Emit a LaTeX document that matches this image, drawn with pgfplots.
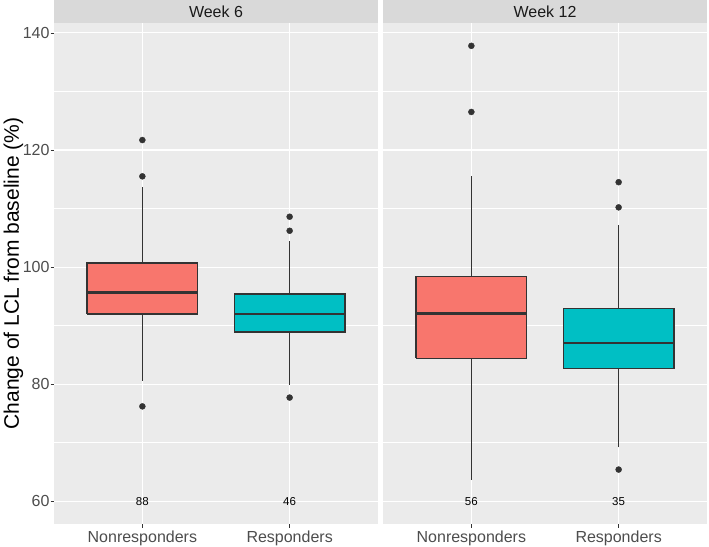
\documentclass[border=0pt]{standalone}
\usepackage{pgfplots}
\pgfplotsset{compat=1.18}
\usepackage{fontspec}
\setmainfont{Liberation Sans}
\definecolor{bgc}{HTML}{EBEBEB}
\definecolor{stripc}{HTML}{D9D9D9}
\definecolor{nonc}{HTML}{F8766D}
\definecolor{resc}{HTML}{00BFC4}
\definecolor{g20}{HTML}{333333}
\definecolor{g30}{HTML}{4D4D4D}
\definecolor{g10}{HTML}{1A1A1A}
\pgfplotsset{
  facet/.style={
    scale only axis, width=324pt, height=501pt,
    xmin=0.4, xmax=2.6, ymin=56.1, ymax=141.7,
    axis background/.style={fill=bgc},
    axis line style={draw=none},
    xtick={1,2}, xticklabels={Nonresponders,Responders},
    ytick={60,80,100,120,140},
    minor ytick={70,90,110,130},
    xmajorgrids, ymajorgrids, yminorgrids,
    major grid style={white, line width=1.1pt},
    minor grid style={white, line width=0.55pt},
    tick align=outside, xtick pos=bottom, ytick pos=left,
    major tick length=3.5pt, minor tick length=0pt,
    tick style={g20, line width=0.8pt},
    /pgf/number format/assume math mode=true,
    tick label style={font=\fontsize{16}{19}\selectfont, text=g30},
    yticklabel style={xshift=2.5pt},
    every axis title shift=0pt,
    title style={fill=stripc, text=g10, font=\fontsize{16}{19}\selectfont,
      minimum width=324pt, minimum height=23pt, inner sep=0pt,
      at={(0.5,1)}, anchor=south, yshift=0pt},
    clip=false,
  },
  box/.style={draw=g20, line width=1.3pt, mark=none, line join=miter},
  whisk/.style={g20, line width=1.4pt, mark=none},
  med/.style={g20, line width=2.6pt, mark=none},
  outl/.style={only marks, mark=*, mark size=3pt, g20, mark options={fill=g20, draw=g20}},
  cnt/.style={draw=none, mark=none, nodes near coords, point meta=explicit symbolic,
    nodes near coords style={anchor=center, font=\fontsize{11.5}{13}\selectfont, text=black}},
}
\begin{document}
\begin{tikzpicture}
\path[use as bounding box] (0,0) rectangle (709pt,546pt);
% ---------- Week 6 ----------
\begin{axis}[facet, at={(54pt,22pt)}, anchor=south west, title={Week 6},
  ylabel={Change of LCL from baseline (\%)},
  ylabel style={at={(axis description cs:-0.125,0.5)}, anchor=center, font=\fontsize{21}{24}\selectfont, text=black}]
% Nonresponders: whiskers 80.6 / 113.75, box 92.0-100.7, median 95.7
\addplot[whisk] coordinates {(1,80.6) (1,92.0)};
\addplot[whisk] coordinates {(1,100.7) (1,113.75)};
\addplot[box, fill=nonc] coordinates {(0.625,92.0) (1.375,92.0) (1.375,100.7) (0.625,100.7) (0.625,92.0)};
\addplot[med] coordinates {(0.625,95.7) (1.375,95.7)};
% Responders: whiskers 79.9 / 104.5, box 88.9-95.4, median 91.95
\addplot[whisk] coordinates {(2,79.9) (2,88.9)};
\addplot[whisk] coordinates {(2,95.4) (2,104.5)};
\addplot[box, fill=resc] coordinates {(1.625,88.9) (2.375,88.9) (2.375,95.4) (1.625,95.4) (1.625,88.9)};
\addplot[med] coordinates {(1.625,91.95) (2.375,91.95)};
\addplot[outl] coordinates {(1,121.7) (1,115.5) (1,76.2) (2,108.6) (2,106.2) (2,77.7)};
\addplot[cnt] coordinates {(1,60)[88] (2,60)[46]};
\end{axis}
% ---------- Week 12 ----------
\begin{axis}[facet, at={(383pt,22pt)}, anchor=south west, title={Week 12},
  yticklabels={}, ytick style={draw=none}]
% Nonresponders: whiskers 63.7 / 115.6, box 84.4-98.4, median 92.1
\addplot[whisk] coordinates {(1,63.7) (1,84.4)};
\addplot[whisk] coordinates {(1,98.4) (1,115.6)};
\addplot[box, fill=nonc] coordinates {(0.625,84.4) (1.375,84.4) (1.375,98.4) (0.625,98.4) (0.625,84.4)};
\addplot[med] coordinates {(0.625,92.1) (1.375,92.1)};
% Responders: whiskers 69.2 / 107.2, box 82.7-92.9, median 87.0
\addplot[whisk] coordinates {(2,69.2) (2,82.7)};
\addplot[whisk] coordinates {(2,92.9) (2,107.2)};
\addplot[box, fill=resc] coordinates {(1.625,82.7) (2.375,82.7) (2.375,92.9) (1.625,92.9) (1.625,82.7)};
\addplot[med] coordinates {(1.625,87.0) (2.375,87.0)};
\addplot[outl] coordinates {(1,137.8) (1,126.5) (2,114.5) (2,110.2) (2,65.4)};
\addplot[cnt] coordinates {(1,60)[56] (2,60)[35]};
\end{axis}
\end{tikzpicture}
\end{document}
